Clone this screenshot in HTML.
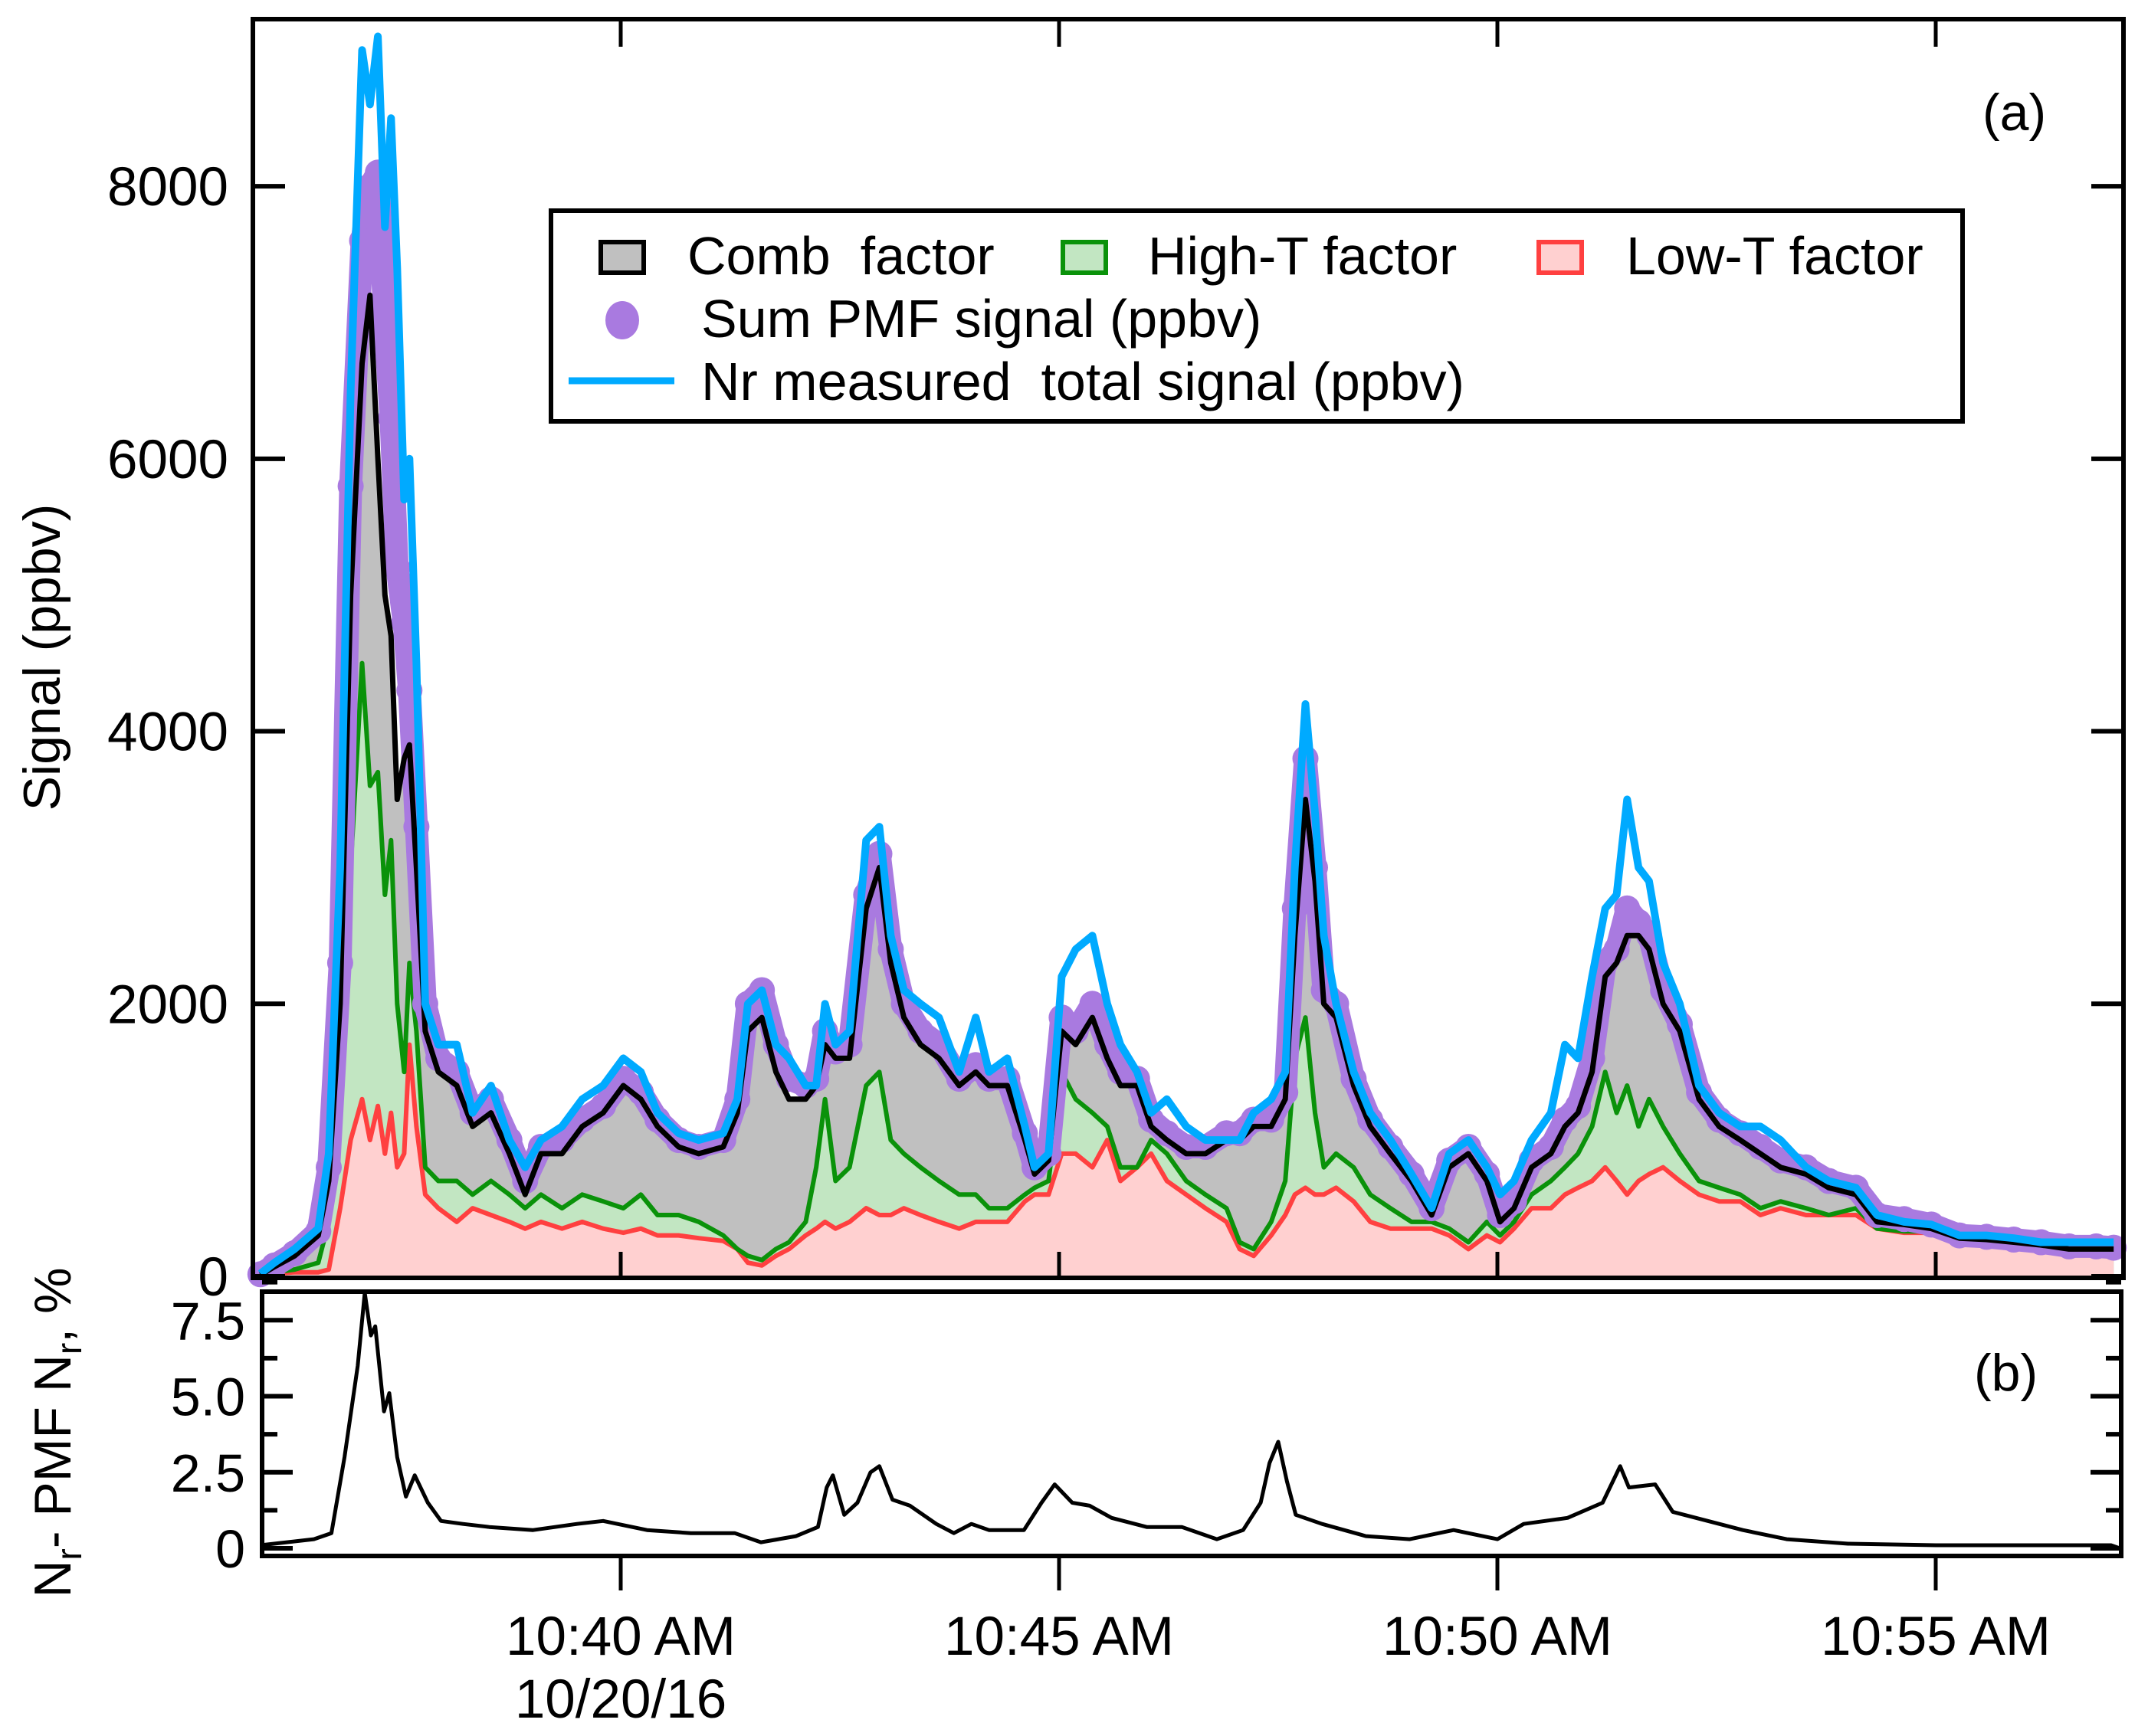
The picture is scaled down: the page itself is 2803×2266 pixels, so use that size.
<!DOCTYPE html>
<html><head><meta charset="utf-8">
<style>
html,body{margin:0;padding:0;background:#fff;}
svg{display:block;font-family:"Liberation Sans",Arial,sans-serif;}
</style></head>
<body>
<svg id="chart" width="2803" height="2266" viewBox="0 0 2803 2266" xmlns="http://www.w3.org/2000/svg">
<g id="panelA"></g>
<g id="panelB"></g>
<g id="legend">
  <rect x="719" y="275" width="1842" height="275" fill="#fff" stroke="#000" stroke-width="6"/>
  <rect x="784" y="316" width="56" height="40" fill="#c0c0c0" stroke="#000" stroke-width="6"/>
  <text x="897" y="358" font-size="70">Comb&#160; factor</text>
  <rect x="1387" y="316" width="56" height="40" fill="#c2e6c2" stroke="#0a920a" stroke-width="6"/>
  <text x="1498" y="358" font-size="70">High-T factor</text>
  <rect x="2008" y="316" width="56" height="40" fill="#ffd0d0" stroke="#ff4040" stroke-width="6"/>
  <text x="2122" y="358" font-size="70">Low-T factor</text>
  <ellipse cx="812" cy="418" rx="22" ry="25" fill="#a97ae0"/>
  <text x="915" y="440" font-size="70">Sum PMF signal (ppbv)</text>
  <line x1="742" y1="497" x2="880" y2="497" stroke="#00aaff" stroke-width="9"/>
  <text x="915" y="522" font-size="70">Nr measured&#160; total signal (ppbv)</text>
</g>
</svg>
<script>
// ---- data (time in minutes after 10:35 AM, 10/20/16) ----
const times = [0.89,1.05,1.28,1.55,1.67,1.80,1.92,2.05,2.14,2.23,2.31,2.38,2.45,2.53,2.59,2.67,2.77,2.92,3.13,3.31,3.52,3.73,3.91,4.09,4.33,4.56,4.80,5.03,5.23,5.42,5.66,5.89,6.17,6.33,6.45,6.61,6.77,6.92,7.11,7.23,7.33,7.45,7.61,7.80,7.95,8.08,8.23,8.42,8.63,8.86,9.05,9.20,9.41,9.61,9.72,9.88,10.03,10.19,10.38,10.55,10.70,10.89,11.05,11.23,11.45,11.67,11.91,12.06,12.22,12.42,12.58,12.69,12.81,12.92,13.02,13.16,13.36,13.55,13.78,14.02,14.25,14.45,14.67,14.88,15.03,15.19,15.39,15.61,15.77,15.92,16.08,16.23,16.36,16.48,16.61,16.73,16.89,17.08,17.30,17.53,17.77,18.00,18.23,18.52,18.78,19.09,19.33,19.64,19.95,20.27,20.58,20.89,21.20,21.52,21.83,22.03];
const nrTotal = [20,100,200,350,900,3000,6500,9000,8600,9100,7700,8500,7400,5700,6000,4500,2000,1700,1700,1200,1400,1000,800,1000,1100,1300,1400,1600,1500,1200,1050,1000,1050,1300,2000,2100,1700,1600,1400,1400,2000,1700,1800,3200,3300,2500,2100,2000,1900,1500,1900,1500,1600,1100,800,900,2200,2400,2500,2000,1700,1500,1200,1300,1100,1000,1000,1000,1200,1300,1500,3000,4200,3400,2500,2000,1500,1200,1000,750,500,900,1000,800,600,700,1000,1200,1700,1600,2200,2700,2800,3500,3000,2900,2300,2000,1400,1200,1100,1100,1000,800,700,650,450,400,380,300,300,280,250,250,250,250];
const combTop = [10,70,150,300,700,2000,5000,6700,7200,6000,5000,4700,3500,3800,3900,3000,1800,1500,1400,1100,1200,900,600,900,900,1100,1200,1400,1300,1100,950,900,950,1200,1800,1900,1500,1300,1300,1400,1700,1600,1600,2700,3000,2300,1900,1700,1600,1400,1500,1400,1400,1000,750,850,1800,1700,1900,1600,1400,1400,1100,1000,900,900,1000,1000,1100,1100,1300,2500,3500,2900,2000,1900,1400,1100,900,700,450,800,900,700,400,500,800,900,1100,1200,1500,2200,2300,2500,2500,2400,2000,1800,1300,1100,1000,900,800,750,650,600,400,380,350,280,270,250,230,200,200,200];
const sumPMF = [15,80,170,330,800,2300,5800,7600,8000,8100,7000,6300,5200,4800,4300,3300,2000,1600,1500,1200,1300,1000,700,950,1000,1150,1250,1450,1350,1150,1000,950,1000,1300,2000,2100,1700,1450,1400,1450,1800,1650,1700,2800,3100,2400,2000,1800,1700,1450,1550,1450,1450,1050,800,900,1900,1800,2000,1700,1500,1450,1150,1050,950,950,1050,1050,1150,1150,1350,2700,3800,3000,2100,2000,1450,1150,950,750,500,850,950,750,450,550,850,950,1150,1250,1600,2300,2400,2700,2600,2500,2100,1850,1350,1150,1050,950,850,800,700,650,450,420,380,300,290,270,250,220,220,210];
const highTTop = [0,30,50,100,400,1500,3000,4500,3600,3700,2800,3200,2000,1500,2300,1800,800,700,700,600,700,600,500,600,500,600,550,500,600,450,450,400,300,200,150,120,200,250,400,800,1300,700,800,1400,1500,1000,900,800,700,600,600,500,500,600,650,700,1500,1300,1200,1100,800,800,1000,900,700,600,500,250,200,400,700,1600,1900,1200,800,900,800,600,500,400,400,350,250,400,300,400,600,700,800,900,1100,1500,1200,1400,1100,1300,1100,900,700,650,600,500,550,500,450,500,350,330,330,270,260,240,220,190,190,190];
const lowTTop = [0,20,30,30,50,500,1000,1300,1000,1250,900,1200,800,900,1700,1100,600,500,400,500,450,400,350,400,350,400,350,320,350,300,300,280,260,200,100,80,150,200,300,350,400,350,400,500,450,450,500,450,400,350,400,400,400,550,600,600,900,900,800,1000,700,800,900,700,600,500,400,200,150,300,450,600,650,600,600,650,550,400,350,350,350,300,200,300,250,350,500,500,600,650,700,800,700,600,700,750,800,700,600,550,550,450,500,450,450,450,350,320,320,260,250,230,210,180,180,180];
const diffTimes = [0.89,1.5,1.7,1.85,2.0,2.08,2.15,2.2,2.3,2.36,2.45,2.55,2.65,2.8,2.95,3.2,3.5,4.0,4.5,4.8,5.3,5.8,6.3,6.6,7.0,7.25,7.35,7.42,7.55,7.7,7.85,7.95,8.1,8.3,8.6,8.8,9.0,9.2,9.6,9.8,9.95,10.15,10.35,10.6,11.0,11.4,11.8,12.1,12.3,12.4,12.5,12.6,12.7,13.0,13.5,14.0,14.5,15.0,15.3,15.8,16.2,16.4,16.5,16.8,17.0,17.4,17.8,18.3,19.0,20.0,21.0,22.0,22.1];
const diffPct = [0.1,0.3,0.5,3.0,6.0,8.4,7.0,7.3,4.5,5.1,3.0,1.7,2.4,1.5,0.9,0.8,0.7,0.6,0.8,0.9,0.6,0.5,0.5,0.2,0.4,0.7,2.0,2.4,1.1,1.5,2.5,2.7,1.6,1.4,0.8,0.5,0.8,0.6,0.6,1.5,2.1,1.5,1.4,1.0,0.7,0.7,0.3,0.6,1.5,2.8,3.5,2.2,1.1,0.8,0.4,0.3,0.6,0.3,0.8,1.0,1.5,2.7,2.0,2.1,1.2,0.9,0.6,0.3,0.15,0.1,0.1,0.1,0.0];
const yTicksA = [0,2000,4000,6000,8000];
const yTicksB = [0,2.5,5.0,7.5];
const xTickMinutes = [5,10,15,20];
const xTickLabels = ["10:40 AM","10:45 AM","10:50 AM","10:55 AM"];

// ---- axes ----
const NS = "http://www.w3.org/2000/svg";
const A = {l:330,r:2771,t:25,b:1668,y0:1666,k:0.17786};
const B = {l:342,r:2768,t:1686,b:2031,y0:2021,k:39.7};
const xs = t => 810 + (t-5)*114.4;
const ya = v => A.y0 - v*A.k;
const yb = v => B.y0 - v*B.k;

function mk(tag, parent, attrs){
  const e = document.createElementNS(NS, tag);
  for (const k in attrs) e.setAttribute(k, attrs[k]);
  parent.appendChild(e);
  return e;
}
const gA = document.getElementById('panelA');
const gB = document.getElementById('panelB');

function ptsStr(tArr, vArr, yf){ return tArr.map((t,i)=>xs(t).toFixed(1)+','+yf(vArr[i]).toFixed(1)).join(' '); }
function areaStr(tArr, vArr){
  return xs(tArr[0]).toFixed(1)+','+A.y0+' '+ptsStr(tArr,vArr,ya)+' '+xs(tArr[tArr.length-1]).toFixed(1)+','+A.y0;
}

let e;
e = mk('polygon', gA, {points:areaStr(times,combTop), fill:'#c0c0c0'});


e = mk('polygon', gA, {points:areaStr(times,highTTop), fill:'#c2e6c2'});


e = mk('polygon', gA, {points:areaStr(times,lowTTop), fill:'#ffd0d0'});


e = mk('polyline', gA, {points:ptsStr(times,lowTTop,ya), fill:'none', stroke:'#ff4040', 'stroke-width':6, 'stroke-linejoin':'round'});


e = mk('polyline', gA, {points:ptsStr(times,highTTop,ya), fill:'none', stroke:'#0a920a', 'stroke-width':6, 'stroke-linejoin':'round'});


const gDots = mk('g', gA, {});


e = mk('polyline', gDots, {points:ptsStr(times,sumPMF,ya), fill:'none', stroke:'#a97ae0', 'stroke-width':30, 'stroke-linejoin':'round', 'stroke-linecap':'round'});


times.forEach((t,i)=>{
  const c = mk('circle', gDots, {cx:xs(t).toFixed(1), cy:ya(sumPMF[i]).toFixed(1), r:17, fill:'#a97ae0'});
  
  
});
e = mk('polyline', gA, {points:ptsStr(times,combTop,ya), fill:'none', stroke:'#000', 'stroke-width':7, 'stroke-linejoin':'round'});


e = mk('polyline', gA, {points:ptsStr(times,nrTotal,ya), fill:'none', stroke:'#00aaff', 'stroke-width':10, 'stroke-linejoin':'round'});



e = mk('rect', gA, {x:A.l, y:A.t, width:A.r-A.l, height:A.b-A.t, fill:'none', stroke:'#000', 'stroke-width':6});


yTicksA.forEach(v=>{
  const y = ya(v);
  const tk = mk('line', gA, {x1:A.l, x2:A.l+42, y1:y, y2:y, stroke:'#000', 'stroke-width':6});
  
  
  const tr = mk('line', gA, {x1:A.r, x2:A.r-42, y1:y, y2:y, stroke:'#000', 'stroke-width':6});
  
  
  const lb = mk('text', gA, {x:298, y:y+25, 'font-size':71, 'text-anchor':'end'});
  lb.textContent = String(v);
  
  
});
xTickMinutes.forEach(m=>{
  const x = xs(m);
  const t1 = mk('line', gA, {x1:x, x2:x, y1:A.b, y2:A.b-34, stroke:'#000', 'stroke-width':5});
  
  
  const t2 = mk('line', gA, {x1:x, x2:x, y1:A.t, y2:A.t+36, stroke:'#000', 'stroke-width':5});
  
  
});
e = mk('text', gA, {x:2587, y:170, 'font-size':68});
e.textContent = '(a)';


e = mk('text', gA, {x:0, y:0, 'font-size':68, 'text-anchor':'middle', transform:'translate(78,858) rotate(-90)'});
e.textContent = 'Signal (ppbv)';



e = mk('polyline', gB, {points:ptsStr(diffTimes,diffPct,yb), fill:'none', stroke:'#000', 'stroke-width':5, 'stroke-linejoin':'round'});


e = mk('rect', gB, {x:B.l, y:B.t, width:B.r-B.l, height:B.b-B.t, fill:'none', stroke:'#000', 'stroke-width':6});


yTicksB.forEach(v=>{
  const y = yb(v);
  const tk = mk('line', gB, {x1:B.l, x2:B.l+40, y1:y, y2:y, stroke:'#000', 'stroke-width':6});
  
  
  const tr = mk('line', gB, {x1:B.r, x2:B.r-40, y1:y, y2:y, stroke:'#000', 'stroke-width':6});
  
  
  const mn = mk('line', gB, {x1:B.l, x2:B.l+20, y1:yb(v+1.25), y2:yb(v+1.25), stroke:'#000', 'stroke-width':6});
  
  
  const mr = mk('line', gB, {x1:B.r, x2:B.r-20, y1:yb(v+1.25), y2:yb(v+1.25), stroke:'#000', 'stroke-width':6});
  
  
  const lb = mk('text', gB, {x:320, y:y+25, 'font-size':70, 'text-anchor':'end'});
  lb.textContent = v===0 ? '0' : v.toFixed(1);
  
  
});
xTickMinutes.forEach((m,i)=>{
  const x = xs(m);
  const tk = mk('line', gB, {x1:x, x2:x, y1:B.b, y2:B.b+45, stroke:'#000', 'stroke-width':5});
  
  
  const lb = mk('text', gB, {x:x, y:2160, 'font-size':71, 'text-anchor':'middle'});
  lb.textContent = xTickLabels[i];
  
  
});
e = mk('text', gB, {x:xs(5), y:2242, 'font-size':71, 'text-anchor':'middle'});
e.textContent = '10/20/16';


e = mk('text', gB, {x:2576, y:1815, 'font-size':68});
e.textContent = '(b)';


const yt = mk('text', gB, {x:0, y:0, 'font-size':68, 'text-anchor':'middle', transform:'translate(92,1870) rotate(-90)'});


yt.innerHTML = 'N<tspan font-size="46" dy="14">r</tspan><tspan dy="-14">- PMF N</tspan><tspan font-size="46" dy="14">r</tspan><tspan dy="-14">, %</tspan>';
</script>
</body></html>
